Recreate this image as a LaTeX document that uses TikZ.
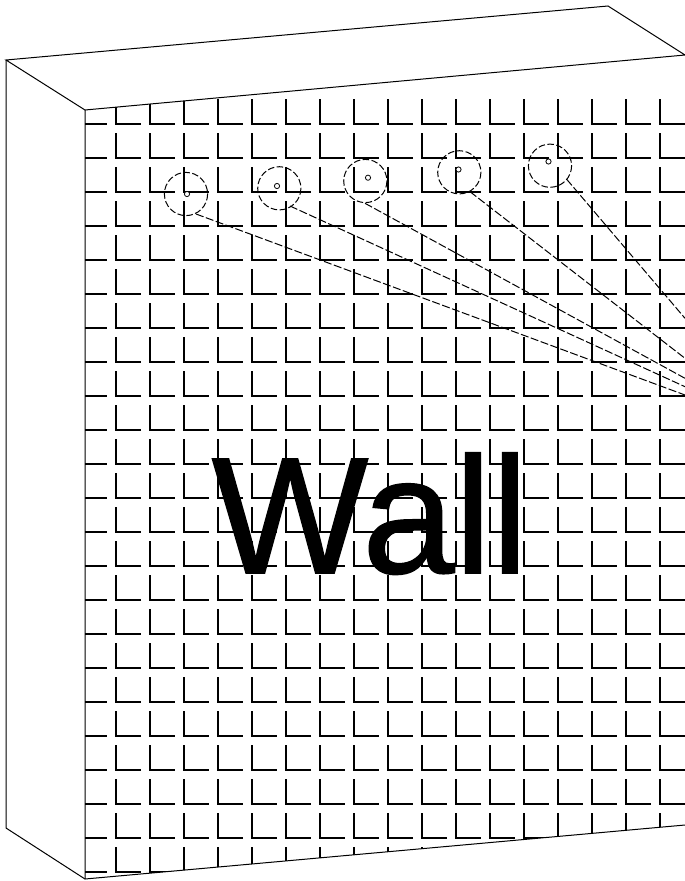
\documentclass[tikz,border=0pt]{standalone}
\usepackage{fontspec}
\setmainfont{Liberation Sans}
\newfontfamily\wallfont[FakeBold=0.9]{Liberation Sans}
\tikzset{
  outline/.style={line width=1pt,black},
  brick/.style={line width=1.6pt,black,line cap=butt,line join=miter},
  ring/.style={line width=1pt,black,dash pattern=on 6.5pt off 2.5pt},
  ray/.style={line width=1pt,black,dash pattern=on 8pt off 2.5pt},
  hole/.style={line width=0.8pt,black,fill=white},
}
\begin{document}
\begin{tikzpicture}[x=1pt,y=-1pt]
\useasboundingbox (0,0) rectangle (685,881);
\coordinate (ftl) at (85,110);
\coordinate (ftr) at (685,55);
\coordinate (fbr) at (685,825);
\coordinate (fbl) at (85,879);
\coordinate (btl) at (6,60);
\coordinate (btr) at (608,6);
\coordinate (bbl) at (6,828);
\begin{scope}
  \clip (ftl) -- (ftr) -- (fbr) -- (fbl) -- cycle;
  \foreach \r in {0,...,22}{
    \foreach \c in {-1,...,16}{
      \pgfmathsetmacro{\px}{floor(115.3+34.04*\c)+0.8}
      \pgfmathsetmacro{\py}{floor(123.3+34.03*\r)+0.8}
      \draw[brick] (\px,\py-24.8) -- (\px,\py) -- (\px+25.5,\py);
    }
  }
\end{scope}
\draw[outline,line join=miter] (fbl) -- (ftl) -- (ftr) -- (btr) -- (btl) -- (ftl);
\draw[outline] (btl) -- (bbl) -- (fbl) -- (fbr);
\node[anchor=base,inner sep=0pt,font=\wallfont\fontsize{166}{166}\selectfont] (wall) at (370,573) {Wall};
\foreach \n/\cx/\cy/\hx/\hy/\sx/\sy/\ex/\ey in {
  a/186/194/187/194/196/214/685/395,
  b/279.3/188.3/277/186/290/206/685/386.7,
  c/365.3/181/368/177.7/365/203.3/685/378.3,
  d/459.3/172.3/458.5/169.5/470/191.7/685/358.3,
  e/550/165.7/548.5/161.5/566.7/179.3/685/318.3}{
  \coordinate (s\n) at (\sx,\sy);
  \coordinate (t\n) at (\ex,\ey);
  \draw[ring] (\cx,\cy) circle (21.6);
  \draw[hole] (\hx,\hy) circle (2.6);
  \draw[ray] (s\n) -- (t\n);
}
\end{tikzpicture}
\end{document}
